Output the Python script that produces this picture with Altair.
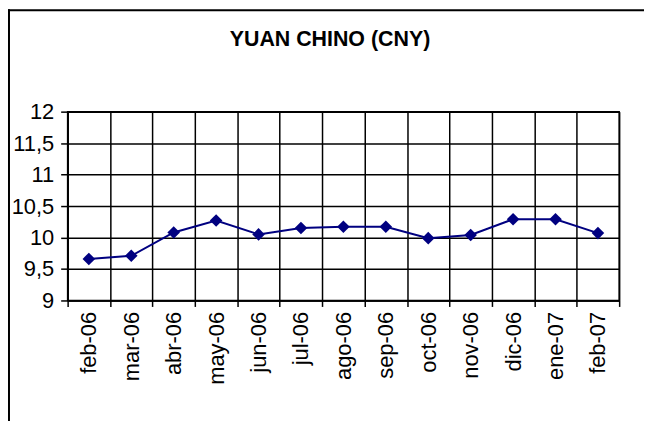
import altair as alt
import pandas as pd

title_text = "YUAN CHINO (CNY)"
months = ["feb-06", "mar-06", "abr-06", "may-06", "jun-06", "jul-06", "ago-06",
          "sep-06", "oct-06", "nov-06", "dic-06", "ene-07", "feb-07"]
values = [9.66, 9.71, 10.08, 10.27, 10.05, 10.15, 10.17, 10.17, 9.99, 10.04, 10.29, 10.29, 10.07]
y_ticks = [9, 9.5, 10, 10.5, 11, 11.5, 12]

df = pd.DataFrame({"mes": months, "valor": values})

FONT = "Liberation Sans"
NAVY = "#000080"
LABEL_SIZE = 22

x_enc = alt.X("mes:N", sort=months, title=None,
              scale=alt.Scale(type="band", paddingInner=0, paddingOuter=0),
              axis=alt.Axis(labelAngle=-90, labelAlign="right", labelBaseline="middle",
                            tickBand="extent", grid=True, labelPadding=5, tickSize=6,
                            labelOverlap=False, labelFontSize=LABEL_SIZE))
y_enc = alt.Y("valor:Q", title=None,
              scale=alt.Scale(domain=[9, 12], nice=False, zero=False),
              axis=alt.Axis(values=y_ticks, grid=True, tickSize=7, labelPadding=7,
                            labelOverlap=False, labelFontSize=LABEL_SIZE,
                            labelExpr="replace(format(datum.value, '.1~f'), '.', ',')"))

base = alt.Chart(df).encode(x=x_enc, y=y_enc)
line = base.mark_line(color=NAVY, strokeWidth=2)
points = base.mark_point(shape="diamond", filled=True, color=NAVY, size=160, opacity=1)

title_df = pd.DataFrame({"t": [title_text]})
title = alt.Chart(title_df).mark_text(font=FONT, fontSize=21.5, fontWeight="bold", color="black",
                                      align="center", baseline="alphabetic").encode(
    x=alt.value(264), y=alt.value(-66), text="t:N")

frame_left = alt.Chart(title_df).mark_rule(color="black", strokeWidth=2).encode(
    x=alt.value(-59), y=alt.value(-103), y2=alt.value(330))
frame_top = alt.Chart(title_df).mark_rule(color="black", strokeWidth=2).encode(
    x=alt.value(-60), x2=alt.value(580), y=alt.value(-102))

chart = alt.layer(line, points, title, frame_left, frame_top).properties(
    width=555, height=190,
    background="white",
    padding={"left": 60, "top": 103, "right": 25, "bottom": 120},
    autosize=alt.AutoSizeParams(type="none"),
).configure_view(stroke="black", strokeWidth=1.5).configure_axis(
    labelFont=FONT, labelFontSize=LABEL_SIZE, labelColor="black",
    gridColor="black", gridWidth=1.5, gridOpacity=1,
    domainColor="black", domainWidth=1.5, tickColor="black", tickWidth=1.5,
)

chart.save("out.html", embed_options={"renderer": "svg", "actions": False})
